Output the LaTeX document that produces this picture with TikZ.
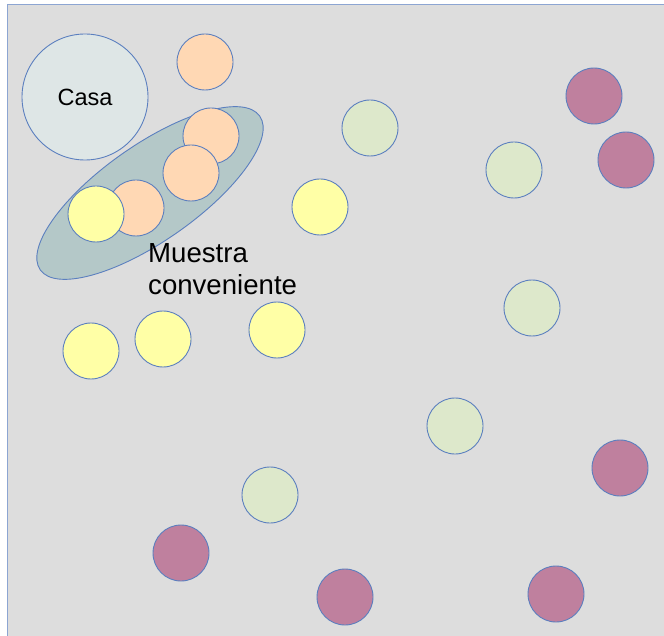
\documentclass[tikz,border=0pt]{standalone}
\usepackage{fontspec}
\setmainfont{Liberation Sans}
\definecolor{bg}{HTML}{DDDDDD}
\definecolor{edge}{HTML}{5B7FBF}
\definecolor{casaf}{HTML}{DEE6E6}
\definecolor{ellf}{HTML}{B4C8C8}
\definecolor{orf}{HTML}{FFD8B4}
\definecolor{yef}{HTML}{FFFFA6}
\definecolor{grf}{HTML}{DDE8CB}
\definecolor{puf}{HTML}{BF809E}
\begin{document}
\begin{tikzpicture}[x=1pt,y=-1pt,
  dot/.style={circle,draw=edge,line width=0.9pt,minimum size=56pt,inner sep=0pt},
  orange/.style={dot,fill=orf},
  yellow/.style={dot,fill=yef},
  green/.style={dot,fill=grf},
  purple/.style={dot,fill=puf}]
\useasboundingbox (0,0) rectangle (664,636);
\fill[white] (0,0) rectangle (664,636);
\fill[bg] (7,5) rectangle (670,640);
\draw[edge!70,line width=1pt] (7,640) -- (7,5) -- (670,5);
% house
\node[circle,draw=edge,line width=0.9pt,fill=casaf,minimum size=126pt,inner sep=0pt,
  font=\fontsize{23.5}{27}\selectfont] (casa) at (85,97) {Casa};
% convenience sample ellipse
\draw[draw=edge,line width=0.9pt,fill=ellf] (150,193) ellipse [x radius=134, y radius=48, rotate=35];
\node[orange] (o1) at (205,62) {};
\node[orange] (o2) at (211,136) {};
\node[orange] (o3) at (191,173) {};
\node[orange] (o4) at (136,208) {};
\node[yellow] (y1) at (96,214) {};
\node[anchor=north west,inner sep=0pt,align=left,font=\fontsize{27.6}{32}\selectfont] (mu) at (148,243) {Muestra\\conveniente};
% yellow
\node[yellow] (y2) at (320,207) {};
\node[yellow] (y3) at (91,351) {};
\node[yellow] (y4) at (163,339) {};
\node[yellow] (y5) at (277,330) {};
% green
\node[green] (g1) at (370,128) {};
\node[green] (g2) at (514,170) {};
\node[green] (g3) at (532,308) {};
\node[green] (g4) at (455,426) {};
\node[green] (g5) at (270,495) {};
% purple
\node[purple] (p1) at (594,96) {};
\node[purple] (p2) at (626,160) {};
\node[purple] (p3) at (620,468) {};
\node[purple] (p4) at (181,553) {};
\node[purple] (p5) at (345,597) {};
\node[purple] (p6) at (556,594) {};
\end{tikzpicture}
\end{document}
